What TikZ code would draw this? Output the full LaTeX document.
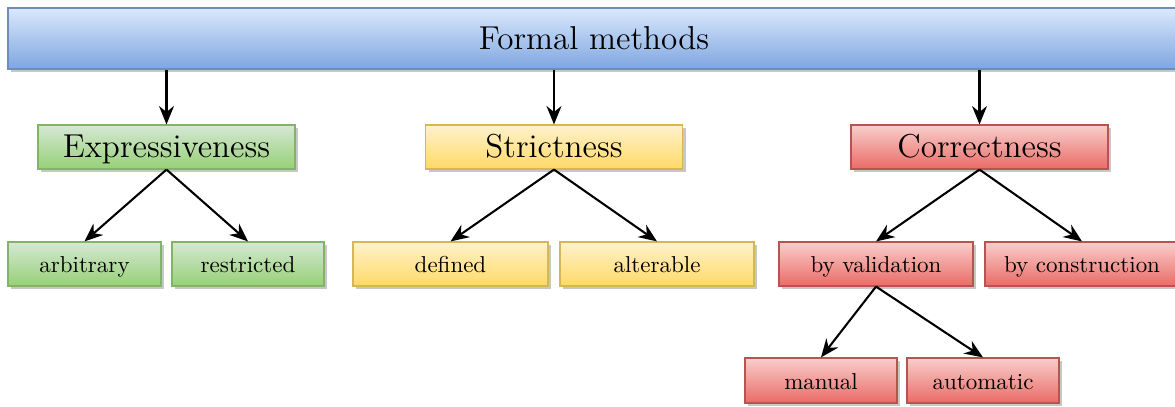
\documentclass[tikz,border=0pt]{standalone}
\usetikzlibrary{arrows.meta,shadows}
\definecolor{bluetop}{HTML}{DAE8FC}
\definecolor{bluebot}{HTML}{7EA6E0}
\definecolor{blueline}{HTML}{6C8EBF}
\definecolor{greentop}{HTML}{D5E8D4}
\definecolor{greenbot}{HTML}{97D077}
\definecolor{greenline}{HTML}{82B366}
\definecolor{yellowtop}{HTML}{FFF2CC}
\definecolor{yellowbot}{HTML}{FFD966}
\definecolor{yellowline}{HTML}{D6B656}
\definecolor{redtop}{HTML}{F8CECC}
\definecolor{redbot}{HTML}{EA6B66}
\definecolor{redline}{HTML}{B85450}
\newlength{\pxu}
\setlength{\pxu}{0.435pt}
\tikzset{
  box/.style={draw, line width=0.5pt, inner sep=0pt, minimum height=44\pxu,
    drop shadow={shadow xshift=3\pxu, shadow yshift=-3\pxu, fill=black!22, opacity=1}},
  bluebox/.style={box, top color=bluetop, bottom color=bluebot, draw=blueline},
  greenbox/.style={box, top color=greentop, bottom color=greenbot, draw=greenline},
  yellowbox/.style={box, top color=yellowtop, bottom color=yellowbot, draw=yellowline},
  redbox/.style={box, top color=redtop, bottom color=redbot, draw=redline},
  big/.style={font=\Large, minimum width=257\pxu, text height=11pt, text depth=2.3pt},
  leaf/.style={font=\normalsize, text height=9pt, text depth=1.2pt},
  conn/.style={-{Stealth[length=8pt,width=6.5pt]}, line width=0.9pt, black},
}
\begin{document}
\begin{tikzpicture}[x=\pxu, y=-\pxu]
\useasboundingbox (0,0) rectangle (1175,406);
\node[bluebox, font=\Large, minimum width=1172\pxu, minimum height=61\pxu, text height=12pt, text depth=2pt] (top) at (594,38.5) {Formal methods};
\node[greenbox, big] (exp) at (166.5,147) {Expressiveness};
\node[yellowbox, big] (str) at (554,147) {Strictness};
\node[redbox, big] (cor) at (979.5,147) {Correctness};
\node[greenbox, leaf, minimum width=153\pxu] (arb) at (84.5,264) {arbitrary};
\node[greenbox, leaf, minimum width=152\pxu] (res) at (248,264) {restricted};
\node[yellowbox, leaf, minimum width=195\pxu] (def) at (450.5,264) {defined};
\node[yellowbox, leaf, minimum width=194\pxu] (alt) at (657,264) {alterable};
\node[redbox, leaf, minimum width=194\pxu] (val) at (876,264) {by validation};
\node[redbox, leaf, minimum width=194\pxu] (con) at (1082,264) {by construction};
\node[redbox, leaf, minimum width=152\pxu, minimum height=45\pxu] (man) at (821,380.5) {manual};
\node[redbox, leaf, minimum width=152\pxu, minimum height=45\pxu] (aut) at (983,380.5) {automatic};
\draw[conn] (exp.north |- top.south) -- (exp.north);
\draw[conn] (str.north |- top.south) -- (str.north);
\draw[conn] (cor.north |- top.south) -- (cor.north);
\draw[conn] (exp.south) -- (arb.north);
\draw[conn] (exp.south) -- (res.north);
\draw[conn] (str.south) -- (def.north);
\draw[conn] (str.south) -- (alt.north);
\draw[conn] (cor.south) -- (val.north);
\draw[conn] (cor.south) -- (con.north);
\draw[conn] (val.south) -- (man.north);
\draw[conn] (val.south) -- (aut.north);
\end{tikzpicture}
\end{document}
